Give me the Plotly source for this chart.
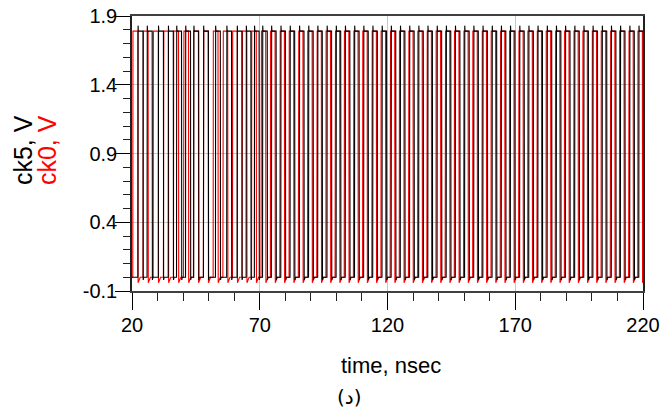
import plotly.graph_objects as go

# Clock edge times (ns) for the two waveforms
ck0_rise = [20.30, 24.30, 28.30, 32.28, 36.23, 40.15, 44.05, 47.92, 51.76, 55.56,
            59.33, 63.07, 66.79, 70.49, 74.17, 77.83, 81.47, 85.09, 88.70, 92.30,
            95.89, 99.48, 103.07, 106.66, 110.25, 113.84, 117.43, 121.02, 124.61, 128.20,
            131.79, 135.38, 138.97, 142.56, 146.15, 149.74, 153.33, 156.92, 160.51, 164.10,
            167.69, 171.28, 174.87, 178.46, 182.05, 185.64, 189.23, 192.82, 196.41, 200.00,
            203.59, 207.18, 210.77, 214.36, 217.95]
ck0_fall = [22.30, 26.30, 30.29, 34.26, 38.19, 42.10, 45.99, 49.84, 53.66, 57.45,
            61.20, 64.93, 68.64, 72.33, 76.00, 79.65, 83.28, 86.90, 90.50, 94.10,
            97.69, 101.28, 104.87, 108.46, 112.05, 115.64, 119.23, 122.82, 126.41, 130.00,
            133.59, 137.18, 140.77, 144.36, 147.95, 151.54, 155.13, 158.72, 162.31, 165.90,
            169.49, 173.08, 176.67, 180.26, 183.85, 187.44, 191.03, 194.62, 198.21, 201.80,
            205.39, 208.98, 212.57, 216.16, 219.75]
ck5_rise = [22.30, 25.90, 30.30, 34.18, 37.43, 40.95, 44.15, 47.97, 52.66, 57.06,
            61.13, 64.67, 67.89, 71.09, 74.57, 78.23, 81.85, 85.51, 89.10, 92.66,
            96.30, 99.88, 103.45, 107.08, 110.65, 114.21, 117.84, 121.42, 125.00, 128.62,
            132.19, 135.76, 139.38, 142.96, 146.52, 150.16, 153.73, 157.31, 160.92, 164.50,
            168.07, 171.70, 175.27, 178.83, 182.46, 186.04, 189.62, 193.24, 196.81, 200.38,
            204.00, 207.58, 211.14, 214.78, 218.35]
ck5_fall = [24.30, 27.90, 32.29, 36.16, 39.39, 42.90, 46.09, 49.89, 54.56, 58.95,
            63.00, 66.53, 69.74, 72.93, 76.40, 80.05, 83.66, 87.31, 90.90, 94.46,
            98.10, 101.68, 105.25, 108.88, 112.45, 116.01, 119.64, 123.22, 126.80, 130.42,
            133.99, 137.56, 141.18, 144.76, 148.32, 151.96, 155.53, 159.11, 162.72, 166.30,
            169.87, 173.50, 177.07, 180.63, 184.26, 187.84, 191.42, 195.04, 198.61, 202.18,
            205.80, 209.38, 212.94, 216.58, 220.15]

V_HIGH = 1.79
V_LOW = 0.0

x_ticks = [20, 70, 120, 170, 220]
y_ticks = [-0.1, 0.4, 0.9, 1.4, 1.9]
y_tick_text = ["-0.1", "0.4", "0.9", "1.4", "1.9"]


def waveform(rises, falls, hi, lo, overshoot, undershoot, settle):
    xs, ys = [20.0], [lo]
    for r, f in zip(rises, falls):
        xs += [r, r + 0.08, r + 0.18, f, f + 0.08, f + settle]
        ys += [lo, hi + overshoot, hi, hi, lo + undershoot, lo]
    return xs, ys


x0, y0 = waveform(ck0_rise, ck0_fall, V_HIGH, V_LOW, 0.0, -0.04, 0.9)
x5, y5 = waveform(ck5_rise, ck5_fall, V_HIGH, V_LOW, 0.04, -0.02, 0.3)

fig = go.Figure()
fig.add_trace(go.Scatter(x=x0, y=y0, mode="lines", name="ck0",
                         line=dict(color="#ff0000", width=1.1)))
fig.add_trace(go.Scatter(x=x5, y=y5, mode="lines", name="ck5",
                         line=dict(color="#000000", width=1.1)))

FONT = "Liberation Sans, Arial, sans-serif"

fig.update_layout(
    width=661, height=412,
    margin=dict(l=132, r=18, t=16, b=121, autoexpand=False),
    paper_bgcolor="white", plot_bgcolor="white",
    showlegend=False,
    font=dict(family=FONT, color="black"),
)

fig.update_xaxes(
    range=[20, 220], tickvals=x_ticks, ticktext=[str(v) for v in x_ticks],
    automargin=False,
    ticks="outside", ticklen=17, tickwidth=1.2, tickcolor="black",
    tickfont=dict(size=20, family=FONT), ticklabelstandoff=-2,
    showgrid=True, gridcolor="#c8c8c8", gridwidth=1, zeroline=False,
    showline=True, linecolor="#404040", linewidth=1.5, mirror=True,
    minor=dict(ticks="outside", ticklen=8, dtick=10, tick0=20,
               tickcolor="#202020", tickwidth=1, showgrid=False),
)
fig.update_yaxes(
    range=[-0.1, 1.9], tickvals=y_ticks, ticktext=y_tick_text,
    automargin=False,
    ticks="outside", ticklen=15, tickwidth=1.2, tickcolor="black",
    tickfont=dict(size=20, family=FONT), ticklabelstandoff=-6,
    showgrid=True, gridcolor="#c8c8c8", gridwidth=1, zeroline=False,
    showline=True, linecolor="#202020", linewidth=1.5, mirror=True,
    minor=dict(ticks="outside", ticklen=7, dtick=0.1, tick0=-0.1,
               tickcolor="#202020", tickwidth=1, showgrid=False),
)

# Axis titles
fig.add_annotation(text="ck5, V", xref="paper", yref="paper",
                   x=-0.213, y=0.513, xanchor="center", yanchor="middle",
                   textangle=-90, showarrow=False,
                   font=dict(size=25, family=FONT, color="black"))
fig.add_annotation(text="ck0, V", xref="paper", yref="paper",
                   x=-0.166, y=0.513, xanchor="center", yanchor="middle",
                   textangle=-90, showarrow=False,
                   font=dict(size=25, family=FONT, color="#ff0000"))
fig.add_annotation(text="time, nsec", xref="paper", yref="paper",
                   x=(391 - 132) / 511, y=-(365 - 291) / 275,
                   xanchor="center", yanchor="middle", showarrow=False,
                   font=dict(size=22, family=FONT, color="black"))
fig.add_annotation(text="(د)", xref="paper", yref="paper",
                   x=(349 - 132) / 511, y=-(397 - 291) / 275,
                   xanchor="center", yanchor="middle", showarrow=False,
                   font=dict(size=20, family="DejaVu Sans, " + FONT, color="black"))

fig.write_html("out.html")
